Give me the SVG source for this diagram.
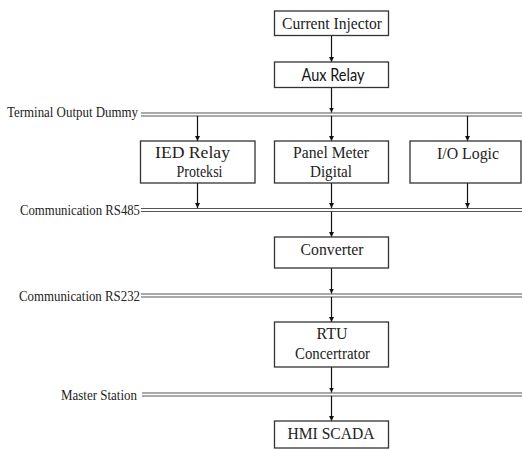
<svg xmlns="http://www.w3.org/2000/svg" width="522" height="450" viewBox="0 0 522 450">
<style>
.box{fill:#fff;stroke:#333;stroke-width:1.3}
.t{font-family:"Liberation Serif","Times New Roman",serif;font-size:17.5px;fill:#222}
.t2{font-family:"Liberation Serif","Times New Roman",serif;font-size:16px;fill:#222}
.s{font-family:Lato,"Open Sans","Liberation Sans",sans-serif;font-size:17px;fill:#111}
.lbl{font-family:"Liberation Serif","Times New Roman",serif;font-size:14px;fill:#222}
.bus{stroke:#555;stroke-width:1.2;fill:none}
.c{stroke:#111;stroke-width:1.2;fill:none;marker-end:url(#ah)}
</style>
<defs>
<marker id="ah" viewBox="0 0 10 10" refX="10" refY="5" markerWidth="5" markerHeight="5" markerUnits="userSpaceOnUse" orient="auto">
<path d="M0,0 L10,5 L0,10 z" fill="#111"/>
</marker>
</defs>
<rect width="522" height="450" fill="#fff"/>

<g id="buses">
<g id="bus-terminal-output-dummy">
<line class="bus" x1="141" y1="113" x2="522" y2="113"/><line class="bus" x1="141" y1="116" x2="522" y2="116"/>
<text class="lbl" x="7" y="117" textLength="131" lengthAdjust="spacingAndGlyphs">Terminal Output Dummy</text>
</g>
<g id="bus-rs485">
<line class="bus" x1="141" y1="208.5" x2="522" y2="208.5"/><line class="bus" x1="141" y1="211.5" x2="522" y2="211.5"/>
<text class="lbl" x="20" y="215" textLength="120" lengthAdjust="spacingAndGlyphs">Communication RS485</text>
</g>
<g id="bus-rs232">
<line class="bus" x1="141" y1="294" x2="522" y2="294"/><line class="bus" x1="141" y1="297" x2="522" y2="297"/>
<text class="lbl" x="19" y="300.5" textLength="121" lengthAdjust="spacingAndGlyphs">Communication RS232</text>
</g>
<g id="bus-master-station">
<line class="bus" x1="142" y1="393" x2="522" y2="393"/><line class="bus" x1="142" y1="396" x2="522" y2="396"/>
<text class="lbl" x="61" y="400" textLength="76" lengthAdjust="spacingAndGlyphs">Master Station</text>
</g>
</g>

<g id="connectors">
<line class="c" x1="331.5" y1="35.5" x2="331.5" y2="62"/>
<line class="c" x1="331.5" y1="87.5" x2="331.5" y2="112.5"/>
<line class="c" x1="197.5" y1="116" x2="197.5" y2="141"/>
<line class="c" x1="331.5" y1="116" x2="331.5" y2="141"/>
<line class="c" x1="467.5" y1="116" x2="467.5" y2="141"/>
<line class="c" x1="197.5" y1="183" x2="197.5" y2="208"/>
<line class="c" x1="331.5" y1="183" x2="331.5" y2="208"/>
<line class="c" x1="467.5" y1="183" x2="467.5" y2="208"/>
<line class="c" x1="331.5" y1="211.5" x2="331.5" y2="237"/>
<line class="c" x1="331.5" y1="268" x2="331.5" y2="293.5"/>
<line class="c" x1="331.5" y1="297" x2="331.5" y2="322"/>
<line class="c" x1="331.5" y1="367" x2="331.5" y2="392.5"/>
<line class="c" x1="331.5" y1="396" x2="331.5" y2="421"/>
</g>

<g id="current-injector">
<rect class="box" x="274.5" y="11" width="114" height="24.5"/>
<text class="t" x="282" y="28.5" textLength="100" lengthAdjust="spacingAndGlyphs">Current Injector</text>
</g>
<g id="aux-relay">
<rect class="box" x="274.5" y="62" width="114" height="25.5"/>
<text class="s" x="301.5" y="80.5" textLength="63" lengthAdjust="spacingAndGlyphs">Aux Relay</text>
</g>
<g id="ied-relay-proteksi">
<rect class="box" x="140.5" y="141" width="114.5" height="42"/>
<text class="t2" x="155" y="157.5" textLength="75" lengthAdjust="spacingAndGlyphs">IED Relay</text>
<text class="t2" x="176.5" y="176.5" textLength="46" lengthAdjust="spacingAndGlyphs">Proteksi</text>
</g>
<g id="panel-meter-digital">
<rect class="box" x="274.5" y="141" width="114" height="42"/>
<text class="t2" x="293" y="157.5" textLength="76" lengthAdjust="spacingAndGlyphs">Panel Meter</text>
<text class="t2" x="310" y="176.5" textLength="42" lengthAdjust="spacingAndGlyphs">Digital</text>
</g>
<g id="io-logic">
<rect class="box" x="410" y="141" width="111" height="42"/>
<text class="t" x="437" y="158.5" textLength="62" lengthAdjust="spacingAndGlyphs">I/O Logic</text>
</g>
<g id="converter">
<rect class="box" x="274.5" y="237" width="114" height="31"/>
<text class="t" x="300.5" y="254.5" textLength="63" lengthAdjust="spacingAndGlyphs">Converter</text>
</g>
<g id="rtu-concertrator">
<rect class="box" x="274.5" y="322" width="114" height="45"/>
<text class="t2" x="316.5" y="338.5" textLength="31" lengthAdjust="spacingAndGlyphs">RTU</text>
<text class="t2" x="295" y="358.5" textLength="75" lengthAdjust="spacingAndGlyphs">Concertrator</text>
</g>
<g id="hmi-scada">
<rect class="box" x="274.5" y="421" width="114" height="27"/>
<text class="t" x="287.5" y="438.5" textLength="87" lengthAdjust="spacingAndGlyphs">HMI SCADA</text>
</g>
</svg>
